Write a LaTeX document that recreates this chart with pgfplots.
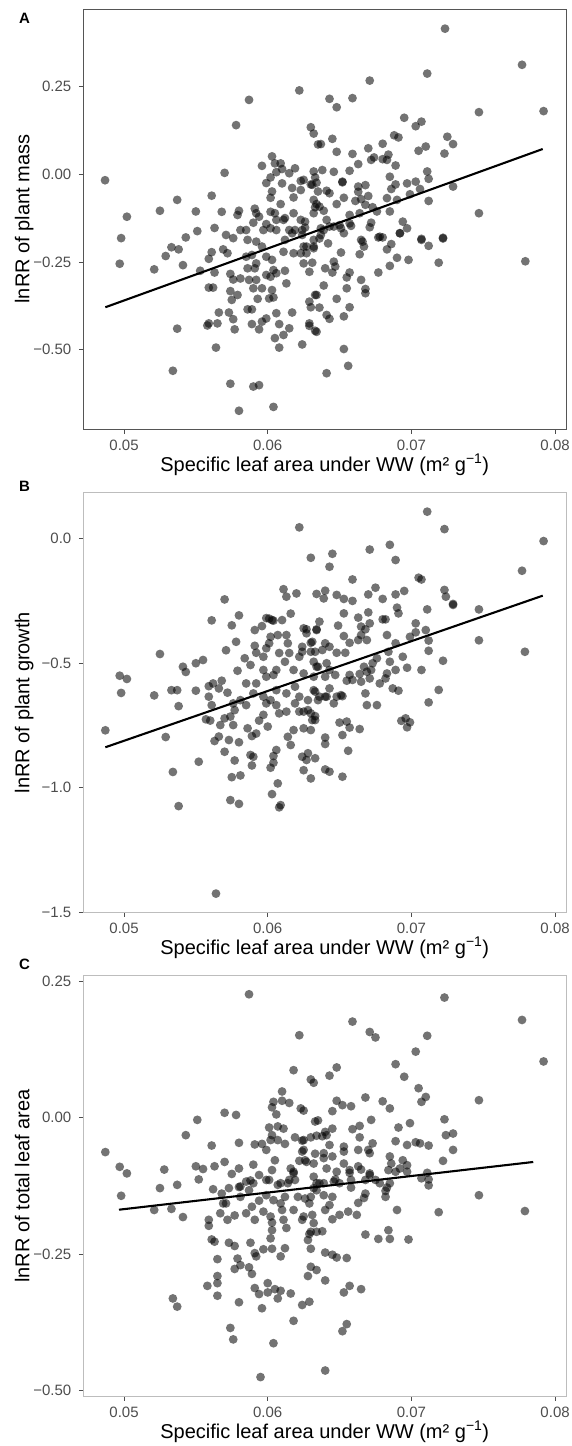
\documentclass[border=0pt]{standalone}
\usepackage{pgfplots}
\pgfplotsset{compat=1.18}
\usepackage{fontspec}
\setmainfont{Liberation Sans}
\definecolor{tickgray}{HTML}{4D4D4D}
\definecolor{frameA}{HTML}{555555}
\definecolor{frameB}{HTML}{BDBDBD}
\pgfplotsset{
  sla/.style={
    scale only axis, width=482.5pt,
    xmin=0.04718, xmax=0.08076,
    xtick={0.05,0.06,0.07,0.08},
    xticklabels={0.05,0.06,0.07,0.08},
    scaled x ticks=false, scaled y ticks=false,
    tick align=outside, tick pos=left,
    major tick length=4.5pt,
    major tick style={tickgray, line width=0.8pt},
    tick label style={font=\fontsize{15}{18}\selectfont, text=tickgray},
    xticklabel style={anchor=north, inner sep=0pt, yshift=-6pt},
    yticklabel style={anchor=east, inner sep=0pt, xshift=-7.5pt},
    every axis x label/.style={at={(axis description cs:0.5,0)}, anchor=base, yshift=-42pt, font=\fontsize{20}{24}\selectfont},
    every axis y label/.style={at={(axis description cs:0,0.5)}, xshift=-54pt, rotate=90, anchor=base, font=\fontsize{20}{24}\selectfont},
    xlabel={Specific leaf area under WW (m² g\textsuperscript{−1})},
    axis line style={line width=0.9pt},
    clip=true,
  },
  pts/.style={only marks, mark=*, mark size=4.4pt, mark options={draw=none, draw opacity=0, fill=black, fill opacity=0.55}},
  fit/.style={black, line width=2.1pt, no marks},
}
\begin{document}
\begin{tikzpicture}
\path[use as bounding box] (0,0) rectangle (571pt,-1446pt);
% ---------------- Panel A ----------------
\begin{axis}[sla, at={(83.5pt,-429pt)}, height=420pt,
  ymin=-0.726, ymax=0.471,
  ytick={-0.5,-0.25,0,0.25}, yticklabels={−0.50,−0.25,0.00,0.25},
  axis line style={frameA},
  ylabel={lnRR of plant mass}]
\addplot[pts] table {
x y
0.04868 -0.017
0.0502 -0.121
0.0498 -0.182
0.0525 -0.104
0.0537 -0.073
0.0550 -0.106
0.0561 -0.061
0.0570 0.004
0.0578 0.140
0.0587 0.212
0.0622 0.239
0.0630 0.134
0.0632 0.116
0.0635 0.085
0.0551 -0.162
0.0543 -0.180
0.0563 -0.153
0.0568 -0.107
0.0580 -0.104
0.0579 -0.116
0.0591 -0.098
0.0596 0.024
0.0603 0.051
0.0605 0.031
0.0609 0.031
0.0610 0.015
0.0606 0.006
0.0615 0.003
0.0619 0.017
0.0599 -0.025
0.0602 -0.009
0.0610 -0.026
0.0625 -0.016
0.0623 -0.019
0.0617 -0.039
0.0623 -0.045
0.0618 -0.066
0.0603 -0.049
0.0602 -0.067
0.0609 -0.085
0.0630 -0.029
0.0633 -0.009
0.0632 0.008
0.0635 -0.049
0.0632 -0.073
0.0592 -0.111
0.0594 -0.121
0.0602 -0.107
0.0605 -0.111
0.0606 -0.130
0.0612 -0.125
0.0611 -0.130
0.0618 -0.111
0.0623 -0.130
0.0626 -0.152
0.0624 -0.159
0.0590 -0.138
0.0585 -0.159
0.0599 -0.142
0.0597 -0.159
0.0615 -0.159
0.0619 -0.159
0.0632 -0.111
0.0636 -0.092
0.0571 -0.173
0.0576 -0.182
0.0581 -0.159
0.07234 0.415
0.0777 0.312
0.0792 0.180
0.0747 0.177
0.0747 -0.111
0.0711 0.287
0.0671 0.267
0.0643 0.215
0.0648 0.191
0.0659 0.217
0.0695 0.161
0.0703 0.137
0.0707 0.150
0.0688 0.111
0.0691 0.105
0.0725 0.107
0.0729 0.086
0.0710 0.079
0.0705 0.067
0.0723 0.059
0.0637 0.086
0.0645 0.101
0.0648 0.064
0.0659 0.058
0.0670 0.074
0.0680 0.087
0.0684 0.056
0.0663 0.029
0.0672 0.041
0.0674 0.048
0.0680 0.043
0.0683 0.041
0.0689 0.025
0.0711 0.008
0.0712 -0.013
0.0657 0.010
0.0638 0.012
0.0646 0.007
0.0652 -0.023
0.0652 -0.021
0.0631 -0.030
0.0634 -0.024
0.0641 -0.047
0.0643 -0.054
0.0663 -0.035
0.0668 -0.031
0.0685 -0.007
0.0689 -0.029
0.0686 -0.042
0.0697 -0.026
0.0703 -0.021
0.0706 -0.042
0.0729 -0.035
0.0712 -0.076
0.0699 -0.057
0.0663 -0.050
0.0670 -0.062
0.0665 -0.071
0.0661 -0.076
0.0683 -0.068
0.0690 -0.073
0.0653 -0.067
0.0648 -0.085
0.0634 -0.085
0.0639 -0.104
0.0633 -0.094
0.0668 -0.087
0.0673 -0.094
0.0676 -0.106
0.0685 -0.106
0.0657 -0.116
0.0664 -0.111
0.0641 -0.130
0.0646 -0.149
0.0626 -0.135
0.0651 -0.154
0.0658 -0.147
0.0671 -0.151
0.0672 -0.138
0.0694 -0.135
0.0697 -0.154
0.0692 -0.168
0.0665 -0.187
0.0678 -0.178
0.0707 -0.184
0.0722 -0.181
0.0497 -0.255
0.0521 -0.271
0.0529 -0.233
0.0533 -0.208
0.0538 -0.214
0.0541 -0.259
0.0537 -0.440
0.0534 -0.560
0.0564 -0.494
0.0553 -0.275
0.0559 -0.241
0.0561 -0.222
0.0563 -0.280
0.0559 -0.323
0.0562 -0.323
0.0558 -0.431
0.0565 -0.425
0.0559 -0.425
0.0566 -0.394
0.0573 -0.394
0.0576 -0.413
0.0577 -0.442
0.0574 -0.597
0.0580 -0.674
0.0590 -0.605
0.0594 -0.601
0.0604 -0.663
0.0574 -0.333
0.0575 -0.358
0.0579 -0.344
0.0574 -0.284
0.0569 -0.214
0.0572 -0.225
0.0576 -0.300
0.0581 -0.297
0.0586 -0.385
0.0589 -0.385
0.0589 -0.427
0.0594 -0.442
0.0593 -0.355
0.0586 -0.268
0.0591 -0.268
0.0587 -0.301
0.0592 -0.301
0.0590 -0.325
0.0596 -0.325
0.0585 -0.235
0.0589 -0.230
0.0592 -0.254
0.0586 -0.187
0.0592 -0.192
0.0596 -0.206
0.0599 -0.235
0.0603 -0.244
0.0604 -0.273
0.0602 -0.292
0.0606 -0.282
0.0599 -0.287
0.0603 -0.330
0.0604 -0.351
0.0601 -0.354
0.0599 -0.411
0.0606 -0.396
0.0596 -0.420
0.0608 -0.427
0.0615 -0.439
0.0617 -0.394
0.0605 -0.467
0.0611 -0.458
0.0608 -0.494
0.0624 -0.485
0.0612 -0.275
0.0613 -0.311
0.0611 -0.221
0.0618 -0.225
0.0623 -0.225
0.0612 -0.187
0.0617 -0.168
0.0624 -0.173
0.0627 -0.206
0.0632 -0.206
0.0625 -0.254
0.0631 -0.252
0.0629 -0.278
0.0634 -0.344
0.0629 -0.363
0.0630 -0.379
0.0634 -0.449
0.0629 -0.432
0.0636 -0.183
0.0637 -0.154
0.0602 -0.154
0.0606 -0.159
0.07793 -0.248
0.0719 -0.252
0.0722 -0.183
0.0712 -0.204
0.0707 -0.187
0.0698 -0.244
0.0690 -0.238
0.0685 -0.261
0.0677 -0.280
0.0692 -0.168
0.0686 -0.199
0.0683 -0.214
0.0677 -0.180
0.0680 -0.180
0.0666 -0.192
0.0667 -0.206
0.0664 -0.228
0.0651 -0.223
0.0646 -0.249
0.0645 -0.280
0.0647 -0.263
0.0640 -0.268
0.0657 -0.280
0.0655 -0.294
0.0665 -0.301
0.0668 -0.327
0.0668 -0.339
0.0655 -0.325
0.0648 -0.355
0.0657 -0.379
0.0653 -0.405
0.0639 -0.317
0.0633 -0.344
0.0636 -0.380
0.0641 -0.401
0.0643 -0.412
0.0629 -0.425
0.0633 -0.446
0.0653 -0.498
0.0656 -0.546
0.0641 -0.567
0.0632 -0.187
0.0637 -0.173
0.0642 -0.197
0.0625 -0.206
0.0627 -0.225
0.0632 -0.211
0.0643 -0.149
0.0639 -0.159
0.0650 -0.145
0.0657 -0.140
0.0653 -0.168
};
\addplot[fit] coordinates {(0.04870,-0.379) (0.07914,0.072)};
\end{axis}
% ---------------- Panel B ----------------
\begin{axis}[sla, at={(83.5pt,-912.3pt)}, height=419.6pt,
  ymin=-1.5, ymax=0.183,
  ytick={-1.5,-1,-0.5,0}, yticklabels={−1.5,−1.0,−0.5,0.0},
  axis line style={frameB},
  ylabel={lnRR of plant growth}]
\addplot[pts] table {
x y
0.0622 0.044
0.0630 -0.078
0.0611 -0.204
0.0613 -0.234
0.0620 -0.221
0.0634 -0.223
0.0616 -0.302
0.0603 -0.328
0.0610 -0.328
0.0601 -0.322
0.0570 -0.245
0.0580 -0.309
0.0575 -0.349
0.0561 -0.329
0.0525 -0.464
0.0541 -0.515
0.0543 -0.536
0.0550 -0.501
0.0555 -0.488
0.0497 -0.551
0.0502 -0.564
0.0498 -0.620
0.0521 -0.630
0.0533 -0.609
0.0537 -0.609
0.0550 -0.611
0.0538 -0.673
0.0559 -0.593
0.0562 -0.582
0.0566 -0.602
0.0568 -0.571
0.0572 -0.619
0.0578 -0.415
0.0571 -0.449
0.0579 -0.531
0.0584 -0.481
0.0588 -0.508
0.0591 -0.431
0.0592 -0.459
0.0591 -0.368
0.0596 -0.352
0.0599 -0.320
0.0604 -0.330
0.0602 -0.395
0.0601 -0.421
0.0607 -0.388
0.0613 -0.388
0.0614 -0.421
0.0608 -0.460
0.0615 -0.460
0.0612 -0.495
0.0599 -0.441
0.0597 -0.475
0.0604 -0.548
0.0606 -0.528
0.0618 -0.528
0.0622 -0.475
0.0624 -0.435
0.0630 -0.419
0.0633 -0.455
0.0627 -0.381
0.0634 -0.368
0.0625 -0.361
0.0635 -0.515
0.0632 -0.555
0.0585 -0.582
0.0592 -0.582
0.0597 -0.528
0.0599 -0.555
0.0590 -0.622
0.0597 -0.635
0.0602 -0.649
0.0576 -0.662
0.0581 -0.649
0.0606 -0.609
0.0613 -0.622
0.0619 -0.595
0.0622 -0.635
0.0628 -0.649
0.0632 -0.609
0.0711 0.107
0.0723 0.037
0.0792 -0.011
0.0777 -0.130
0.0779 -0.455
0.0747 -0.285
0.0747 -0.409
0.0671 -0.045
0.0685 -0.026
0.0689 -0.087
0.0645 -0.062
0.0643 -0.114
0.0659 -0.165
0.0705 -0.158
0.0707 -0.165
0.0723 -0.207
0.0724 -0.234
0.0729 -0.263
0.0729 -0.267
0.0711 -0.285
0.0695 -0.211
0.0689 -0.225
0.0675 -0.198
0.0670 -0.225
0.0680 -0.243
0.0690 -0.278
0.0691 -0.301
0.0640 -0.210
0.0639 -0.241
0.0648 -0.227
0.0653 -0.243
0.0659 -0.251
0.0653 -0.301
0.0663 -0.318
0.0670 -0.297
0.0680 -0.325
0.0682 -0.325
0.0671 -0.341
0.0668 -0.365
0.0665 -0.354
0.0649 -0.350
0.0636 -0.334
0.0627 -0.365
0.0634 -0.365
0.0653 -0.392
0.0657 -0.419
0.0663 -0.408
0.0669 -0.408
0.0665 -0.388
0.0683 -0.388
0.0703 -0.341
0.0703 -0.377
0.0710 -0.368
0.0699 -0.395
0.0712 -0.410
0.0712 -0.451
0.0689 -0.421
0.0684 -0.455
0.0722 -0.491
0.0707 -0.528
0.0694 -0.475
0.0697 -0.519
0.0689 -0.528
0.0685 -0.495
0.0683 -0.542
0.0678 -0.582
0.0682 -0.562
0.0676 -0.481
0.0673 -0.501
0.0672 -0.528
0.0667 -0.515
0.0669 -0.535
0.0671 -0.562
0.0664 -0.544
0.0665 -0.575
0.0657 -0.548
0.0655 -0.571
0.0659 -0.568
0.0648 -0.459
0.0654 -0.459
0.0640 -0.421
0.0643 -0.435
0.0638 -0.448
0.0631 -0.415
0.0630 -0.455
0.0624 -0.455
0.0632 -0.495
0.0634 -0.515
0.0641 -0.501
0.0643 -0.528
0.0647 -0.548
0.0640 -0.555
0.0625 -0.542
0.0643 -0.602
0.0640 -0.635
0.0633 -0.615
0.0648 -0.635
0.0651 -0.629
0.0635 -0.649
0.0668 -0.622
0.0676 -0.669
0.0669 -0.669
0.0687 -0.602
0.0691 -0.611
0.0719 -0.608
0.0712 -0.658
0.0487 -0.770
0.0529 -0.797
0.0534 -0.937
0.0538 -1.074
0.0552 -0.896
0.0564 -1.425
0.0557 -0.726
0.0560 -0.731
0.0563 -0.813
0.0566 -0.795
0.0570 -0.856
0.0573 -0.809
0.0580 -0.818
0.0576 -0.749
0.0577 -0.689
0.0570 -0.722
0.0574 -0.715
0.0567 -0.749
0.0577 -0.891
0.0575 -0.958
0.0581 -0.951
0.0574 -1.050
0.0580 -1.065
0.0588 -0.869
0.0589 -0.911
0.0590 -0.876
0.0589 -0.793
0.0592 -0.783
0.0586 -0.762
0.0594 -0.731
0.0600 -0.755
0.0597 -0.708
0.0602 -0.920
0.0604 -0.900
0.0606 -0.849
0.0604 -0.873
0.0607 -0.983
0.0603 -1.026
0.0608 -1.079
0.0609 -1.070
0.0614 -0.796
0.0616 -0.829
0.0618 -0.769
0.0625 -0.930
0.0630 -0.963
0.0624 -0.876
0.0628 -0.862
0.0633 -0.882
0.0625 -0.762
0.0630 -0.769
0.0585 -0.669
0.0599 -0.662
0.0606 -0.669
0.0619 -0.662
0.0608 -0.702
0.0613 -0.695
0.0622 -0.695
0.0628 -0.689
0.0633 -0.729
0.0631 -0.729
0.0561 -0.669
0.0559 -0.635
0.0693 -0.732
0.0696 -0.722
0.0699 -0.738
0.0697 -0.758
0.0650 -0.739
0.0655 -0.735
0.0657 -0.759
0.0664 -0.765
0.0652 -0.789
0.0640 -0.799
0.0640 -0.825
0.0656 -0.852
0.0625 -0.695
0.0630 -0.702
0.0633 -0.713
0.0627 -0.889
0.0640 -0.927
0.0643 -0.936
0.0652 -0.956
0.0636 -0.635
0.0641 -0.635
0.0646 -0.662
0.0652 -0.633
};
\addplot[fit] coordinates {(0.04870,-0.838) (0.07914,-0.230)};
\end{axis}
% ---------------- Panel C ----------------
\begin{axis}[sla, at={(83.5pt,-1396pt)}, height=420.3pt,
  ymin=-0.5097, ymax=0.260,
  ytick={-0.5,-0.25,0,0.25}, yticklabels={−0.50,−0.25,0.00,0.25},
  axis line style={frameB},
  ylabel={lnRR of total leaf area}]
\addplot[pts] table {
x y
0.0587 0.226
0.0622 0.151
0.0618 0.087
0.0630 0.070
0.0632 0.064
0.0610 0.048
0.0610 0.031
0.0615 0.027
0.0604 0.029
0.0603 0.019
0.0606 0.006
0.0623 0.017
0.0625 0.013
0.0570 0.009
0.0578 0.005
0.0551 -0.004
0.0543 -0.032
0.0561 -0.051
0.0580 -0.046
0.0487 -0.063
0.0497 -0.090
0.0502 -0.102
0.0528 -0.095
0.0537 -0.123
0.0525 -0.129
0.0550 -0.089
0.0555 -0.094
0.0563 -0.089
0.0570 -0.081
0.0552 -0.113
0.0575 -0.103
0.0580 -0.093
0.0591 -0.049
0.0596 -0.048
0.0599 -0.059
0.0601 -0.018
0.0603 -0.032
0.0607 -0.016
0.0611 -0.020
0.0602 -0.041
0.0607 -0.041
0.0612 -0.048
0.0605 -0.078
0.0603 -0.096
0.0601 -0.114
0.0590 -0.086
0.0594 -0.105
0.0585 -0.117
0.0588 -0.115
0.0619 -0.036
0.0624 -0.042
0.0630 -0.036
0.0634 -0.033
0.0633 -0.007
0.0624 -0.062
0.0622 -0.079
0.0627 -0.081
0.0632 -0.084
0.0633 -0.066
0.0616 -0.093
0.0618 -0.099
0.0619 -0.114
0.0632 -0.108
0.0636 -0.120
0.0609 -0.120
0.0615 -0.114
0.0562 -0.131
0.0573 -0.129
0.0580 -0.127
0.0723 0.220
0.0777 0.179
0.0792 0.103
0.0747 0.032
0.0659 0.176
0.0671 0.157
0.0675 0.147
0.0711 0.150
0.0703 0.121
0.0689 0.098
0.0695 0.075
0.0648 0.092
0.0643 0.077
0.0705 0.054
0.0710 0.038
0.0707 0.029
0.0680 0.030
0.0685 0.017
0.0668 0.037
0.0648 0.031
0.0652 0.023
0.0658 0.021
0.0645 0.012
0.0723 -0.003
0.0724 -0.032
0.0729 -0.029
0.0729 -0.059
0.0722 -0.079
0.0691 -0.018
0.0699 -0.010
0.0672 -0.004
0.0664 -0.015
0.0659 -0.021
0.0664 -0.036
0.0635 -0.005
0.0645 -0.020
0.0640 -0.026
0.0638 -0.034
0.0641 -0.032
0.0625 -0.041
0.0689 -0.043
0.0697 -0.050
0.0703 -0.045
0.0706 -0.047
0.0712 -0.051
0.0673 -0.047
0.0670 -0.059
0.0671 -0.065
0.0663 -0.059
0.0653 -0.053
0.0653 -0.062
0.0643 -0.050
0.0645 -0.071
0.0639 -0.065
0.0639 -0.074
0.0625 -0.059
0.0626 -0.078
0.0685 -0.071
0.0686 -0.084
0.0694 -0.078
0.0697 -0.087
0.0653 -0.084
0.0657 -0.096
0.0663 -0.089
0.0665 -0.095
0.0641 -0.093
0.0648 -0.099
0.0684 -0.096
0.0689 -0.099
0.0692 -0.093
0.0707 -0.111
0.0711 -0.101
0.0712 -0.113
0.0712 -0.124
0.0671 -0.102
0.0675 -0.114
0.0678 -0.120
0.0634 -0.120
0.0639 -0.120
0.0647 -0.113
0.0658 -0.128
0.0668 -0.114
0.0683 -0.128
0.0685 -0.120
0.0498 -0.143
0.0521 -0.169
0.0533 -0.167
0.0541 -0.182
0.0534 -0.331
0.0537 -0.346
0.0558 -0.308
0.0565 -0.290
0.0565 -0.303
0.0565 -0.326
0.0565 -0.259
0.0559 -0.187
0.0559 -0.198
0.0561 -0.223
0.0563 -0.227
0.0567 -0.175
0.0569 -0.157
0.0568 -0.139
0.0572 -0.187
0.0577 -0.179
0.0573 -0.229
0.0577 -0.235
0.0579 -0.258
0.0577 -0.277
0.0581 -0.270
0.0587 -0.274
0.0580 -0.338
0.0574 -0.385
0.0576 -0.406
0.0589 -0.286
0.0591 -0.312
0.0594 -0.323
0.0596 -0.349
0.0595 -0.475
0.0604 -0.413
0.0588 -0.229
0.0592 -0.254
0.0591 -0.248
0.0597 -0.241
0.0603 -0.240
0.0600 -0.320
0.0600 -0.303
0.0605 -0.314
0.0609 -0.317
0.0607 -0.331
0.0616 -0.322
0.0618 -0.372
0.0624 -0.343
0.0629 -0.337
0.0612 -0.239
0.0609 -0.254
0.0602 -0.221
0.0603 -0.206
0.0603 -0.192
0.0602 -0.181
0.0611 -0.187
0.0613 -0.202
0.0610 -0.169
0.0618 -0.169
0.0624 -0.187
0.0631 -0.178
0.0632 -0.193
0.0628 -0.224
0.0630 -0.209
0.0630 -0.240
0.0630 -0.273
0.0634 -0.279
0.0628 -0.290
0.0585 -0.175
0.0591 -0.187
0.0597 -0.172
0.0589 -0.163
0.0594 -0.152
0.0599 -0.142
0.0604 -0.151
0.0609 -0.157
0.0612 -0.145
0.0571 -0.157
0.0581 -0.145
0.0587 -0.133
0.0581 -0.126
0.0590 -0.120
0.0599 -0.114
0.0607 -0.123
0.0614 -0.120
0.0618 -0.102
0.0621 -0.145
0.0626 -0.148
0.0630 -0.145
0.0634 -0.133
0.0779 -0.171
0.0747 -0.142
0.0719 -0.173
0.0690 -0.169
0.0698 -0.223
0.0684 -0.206
0.0685 -0.222
0.0677 -0.222
0.0668 -0.214
0.0665 -0.314
0.0657 -0.308
0.0653 -0.320
0.0655 -0.378
0.0652 -0.391
0.0640 -0.463
0.0640 -0.298
0.0655 -0.257
0.0648 -0.256
0.0645 -0.251
0.0640 -0.247
0.0629 -0.213
0.0634 -0.209
0.0638 -0.208
0.0645 -0.186
0.0650 -0.178
0.0656 -0.172
0.0662 -0.178
0.0667 -0.147
0.0663 -0.156
0.0668 -0.139
0.0682 -0.145
0.0682 -0.134
0.0640 -0.169
0.0625 -0.181
0.0639 -0.142
0.0645 -0.145
0.0643 -0.160
0.0629 -0.157
0.0632 -0.129
0.0658 -0.114
0.0671 -0.105
0.0697 -0.099
0.0657 -0.101
0.0650 -0.120
0.0646 -0.117
};
\addplot[fit] coordinates {(0.04965,-0.1685) (0.07848,-0.0811)};
\end{axis}
% panel letters
\node[font=\bfseries\fontsize{15}{18}\selectfont] at (24.5pt,-18pt) {A};
\node[font=\bfseries\fontsize{15}{18}\selectfont] at (24.5pt,-486.5pt) {B};
\node[font=\bfseries\fontsize{15}{18}\selectfont] at (24.5pt,-964pt) {C};
\end{tikzpicture}
\end{document}
